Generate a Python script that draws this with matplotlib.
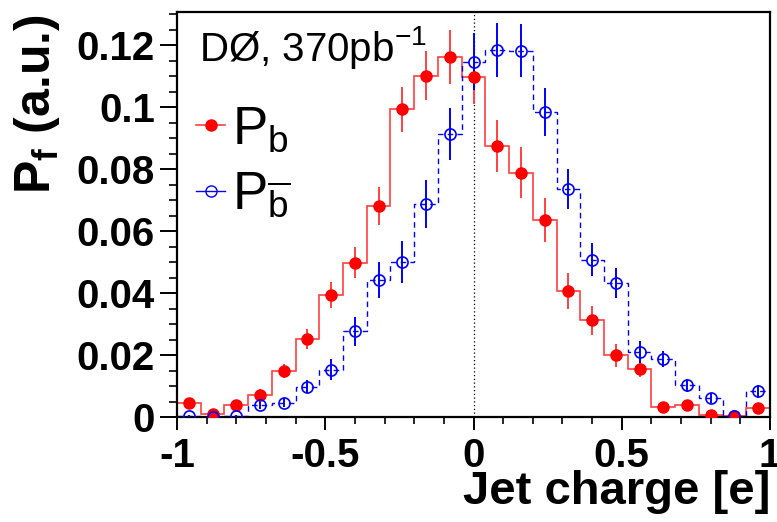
import numpy as np
import matplotlib
matplotlib.use("Agg")
import matplotlib.pyplot as plt
from matplotlib.lines import Line2D
from matplotlib.ticker import MultipleLocator

plt.rcParams['font.family'] = ['Liberation Sans', 'DejaVu Sans']
plt.rcParams['mathtext.fontset'] = 'custom'
plt.rcParams['mathtext.rm'] = 'Liberation Sans'
plt.rcParams['mathtext.it'] = 'Liberation Sans:italic'
plt.rcParams['mathtext.bf'] = 'Liberation Sans:bold'

# 25 bins of jet charge, width 0.08
edges = np.linspace(-1, 1, 26)
centers = 0.5 * (edges[:-1] + edges[1:])

# P_b (red, filled)
pb = [0.0046, 0.0009, 0.0039, 0.0072, 0.0149, 0.0252, 0.0394, 0.0498, 0.0681,
      0.0993, 0.1102, 0.1162, 0.1098, 0.0875, 0.0789, 0.0636, 0.0408, 0.0312,
      0.0199, 0.0154, 0.0033, 0.0038, 0.0008, 0.0002, 0.0028]
pb_err = [0.0014, 0.0006, 0.0013, 0.0018, 0.0023, 0.0032, 0.0042, 0.0050, 0.0061,
          0.0073, 0.0080, 0.0086, 0.0087, 0.0084, 0.0081, 0.0071, 0.0058, 0.0047,
          0.0038, 0.0026, 0.0012, 0.0013, 0.0006, 0.0003, 0.0011]

# P_bbar (blue, open)
pbb = [0.0002, 0.0000, 0.0004, 0.0038, 0.0046, 0.0097, 0.0153, 0.0277, 0.0441,
       0.0500, 0.0688, 0.0913, 0.1146, 0.1184, 0.1182, 0.0985, 0.0736, 0.0508,
       0.0432, 0.0210, 0.0188, 0.0102, 0.0061, 0.0002, 0.0083]
pbb_err = [0.0003, 0.0001, 0.0004, 0.0013, 0.0014, 0.0021, 0.0035, 0.0047, 0.0058,
           0.0069, 0.0077, 0.0083, 0.0092, 0.0087, 0.0086, 0.0077, 0.0065, 0.0054,
           0.0048, 0.0035, 0.0026, 0.0022, 0.0016, 0.0003, 0.0020]

red_line = '#ff4040'

fig = plt.figure(figsize=(7.77, 5.22), dpi=100)
ax = fig.add_axes([0.2278, 0.2011, 0.7632, 0.7759])

# histograms as steps
ax.stairs(pb, edges, baseline=None, color=red_line, lw=1.2, zorder=2)
ax.stairs(pbb, edges, baseline=None, color='blue', lw=1.0, ls=(0, (4, 3)), zorder=2)

# points with errors
ax.errorbar(centers, pb, yerr=pb_err, fmt='o', color=red_line, mfc='red', mec='red',
            ms=8, elinewidth=1.4, capsize=0, zorder=3)
ax.errorbar(centers, pbb, yerr=pbb_err, fmt='o', color='blue', mfc='none', mec='blue',
            ms=8, mew=1.2, elinewidth=1.4, capsize=0, zorder=3)

ax.axvline(0, color='black', lw=0.9, ls=(0, (1, 2)), zorder=1)

ax.set_xlim(-1, 1)
ax.set_ylim(0, 0.1307)

ax.xaxis.set_minor_locator(MultipleLocator(0.1))
ax.yaxis.set_minor_locator(MultipleLocator(0.005))
ax.set_xticks([-1, -0.5, 0, 0.5, 1])
ax.set_xticklabels(['-1', '-0.5', '0', '0.5', '1'])
ax.set_yticks([0, 0.02, 0.04, 0.06, 0.08, 0.1, 0.12])
ax.set_yticklabels(['0', '0.02', '0.04', '0.06', '0.08', '0.1', '0.12'])

ax.tick_params(axis='x', which='major', length=9.5, width=1.4, pad=5, labelsize=29)
ax.tick_params(axis='x', which='minor', length=5, width=1.2)
ax.tick_params(axis='y', which='major', length=12, width=1.4, pad=4, labelsize=29)
ax.tick_params(axis='y', which='minor', length=6, width=1.2)
for lab in ax.get_xticklabels() + ax.get_yticklabels():
    lab.set_fontweight('bold')
for sp in ax.spines.values():
    sp.set_linewidth(1.6)

ax.set_xlabel('Jet charge [e]', fontsize=34, fontweight='bold', ha='right', va='top')
ax.xaxis.set_label_coords(1.0, -0.13)
ax.set_ylabel(r'$\mathbf{P}_{\mathbf{f}}$ (a.u.)', fontsize=36, fontweight='bold', ha='right')
ax.yaxis.set_label_coords(-0.194, 0.993)

ax.text(0.037, 0.88, 'DØ, 370pb$^{\\mathrm{-1}}$', transform=ax.transAxes,
        fontsize=29, ha='left', va='baseline')

handles = [
    Line2D([], [], color=red_line, marker='o', mfc='red', mec='red', ms=8, lw=1.2),
    Line2D([], [], color='blue', marker='o', mfc='none', mec='blue', ms=8, lw=1.0),
]
ax.legend(handles, [r'$\mathrm{P}_\mathrm{b}$', r'$\mathrm{P}_{\overline{\mathrm{b}}}$'],
          loc='upper left', bbox_to_anchor=(-0.03, 0.862), frameon=False, fontsize=38,
          handlelength=0.55, handletextpad=0.12, labelspacing=0.3, borderpad=0.2)

fig.savefig('out.png', dpi=100)
